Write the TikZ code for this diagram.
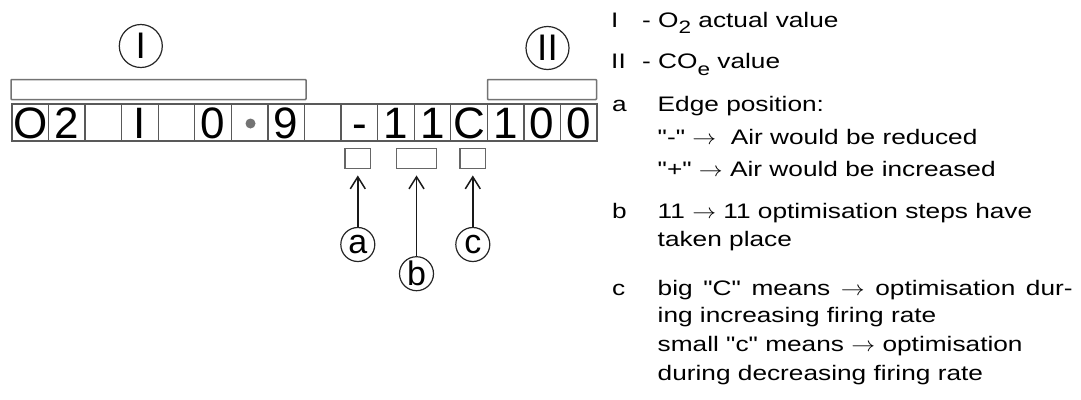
\documentclass[tikz,border=0pt]{standalone}
\usepackage{fontspec}
\usepackage{graphicx}
\setmainfont{Liberation Sans}
\newfontfamily\legendfont{Liberation Sans}[FakeStretch=1.25]
\usetikzlibrary{arrows.meta}
\newcommand\rarr{\scalebox{1.15}[1]{$\rightarrow$}}
\newcommand\subsc[2]{\raisebox{-#1}{\fontsize{18}{18}\selectfont #2}}
\begin{document}
\begin{tikzpicture}[x=1pt,y=-1pt,
  cell/.style={draw=black!65, line width=1.3pt, minimum width=36.5625pt, minimum height=37pt,
    inner sep=0pt, text height=34pt, text depth=3pt, font=\fontsize{44}{44}\selectfont},
  bar/.style={draw=black!55, line width=1.5pt, rounded corners=0.8pt},
  smallbox/.style={draw=black!60, line width=1.3pt, minimum height=20pt, inner sep=0pt},
  bigring/.style={circle, draw=black!85, line width=1.2pt, minimum size=43pt, inner sep=0pt,
    font=\fontsize{37}{37}\selectfont},
  smallring/.style={circle, draw=black!85, line width=1.2pt, minimum size=34pt, inner sep=0pt,
    font=\fontsize{34}{34}\selectfont},
  arr/.style={draw=black!90, line width=1.5pt, -{Straight Barb[length=12pt,width=15pt]}},
  legend/.style={anchor=base west, inner sep=0pt, font=\legendfont\fontsize{21}{25}\selectfont}
]
\useasboundingbox (0,0) rectangle (1081,399);

% brackets above the display
\draw[bar] (11,79.5) rectangle (306,99.5);
\draw[bar] (487.5,79.5) rectangle (596.5,99.5);

% ring labels I and II
\node[bigring] (r1) at (140.8,46) {I};
\node[bigring] (r2) at (547.5,48) {II};

% display cells
\foreach \t [count=\i] in {O,2,{},I,{},0,{},9,{},-,1,1,C,1,0,0}
  {\node[cell] (c\i) at ({12+36.5625*(\i-0.5)},122.5) {\t};}
\node[circle, fill=black!55, minimum size=10pt, inner sep=0pt] (dot) at (250.5,123.5) {};

% small boxes below
\node[smallbox, minimum width=25.7pt] (ba) at (357.8,158.3) {};
\node[smallbox, minimum width=40pt] (bb) at (416.7,158.3) {};
\node[smallbox, minimum width=25.7pt] (bc) at (472.8,158.3) {};

% rings a b c
\node[smallring] (ca) at (357.8,244.5) {a};
\node[smallring] (cb) at (416.5,273.7) {b};
\node[smallring] (cc) at (472.8,244.5) {c};

\draw[arr, shorten >=6.5pt] (ca.north) -- (ca.north |- ba.south);
\draw[arr, shorten >=6.5pt] (cb.north) -- (cb.north |- bb.south);
\draw[arr, shorten >=6.5pt] (cc.north) -- (cc.north |- bc.south);

% legend
\node[legend] (l1a) at (611,27.7) {I};
\node[legend] (l1b) at (642,27.7) {- O\subsc{5.5pt}{2} actual value};
\node[legend] (l2a) at (611,68.3) {II};
\node[legend] (l2b) at (642,68.3) {- CO\subsc{7pt}{e} value};
\node[legend] (l3a) at (612,111.7) {a};
\node[legend] (l3b) at (657.5,111.7) {Edge position:};
\node[legend] (l4) at (657.5,144) {"-" \rarr\ \ Air would be reduced};
\node[legend] (l5) at (657.5,176.5) {"+" \rarr\ Air would be increased};
\node[legend] (l6a) at (612,218.5) {b};
\node[legend] (l6b) at (657.5,218.5) {11 \rarr\ 11 optimisation steps have};
\node[legend] (l7) at (657.5,246.5) {taken place};
\node[legend] (l8a) at (612,295) {c};
\node[legend] (l8b) at (657.5,295) {\makebox[415pt][s]{big "C" means \rarr\ optimisation dur-}};
\node[legend] (l9) at (657.5,322.7) {ing increasing firing rate};
\node[legend] (l10) at (657.5,351.7) {small "c" means \rarr\ optimisation};
\node[legend] (l11) at (657.5,380) {during decreasing firing rate};
\end{tikzpicture}
\end{document}
